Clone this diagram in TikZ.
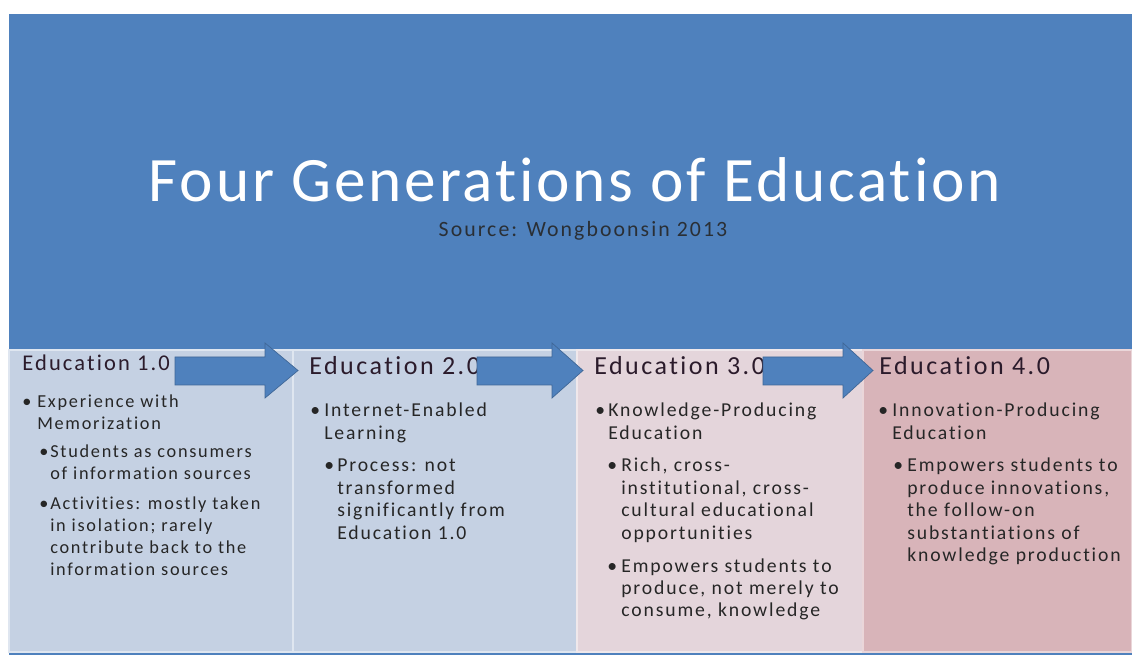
\documentclass[tikz,border=0pt]{standalone}
\usepackage{fontspec}
\setmainfont{Carlito}
\newfontfamily\bodyfont[LetterSpace=9.5, Ligatures=NoCommon]{Carlito}
\newfontfamily\titlefont[LetterSpace=4.5, Ligatures=NoCommon]{Carlito}
\usepackage{xcolor}
\usepackage{tikz}
\usetikzlibrary{positioning}
\definecolor{edublue}{HTML}{4F81BD}
\definecolor{edupanelblue}{HTML}{C5D1E3}
\definecolor{edupanelrose}{HTML}{E4D5DB}
\definecolor{edupanelpink}{HTML}{D8B4B9}
\definecolor{edutext}{HTML}{262626}
\definecolor{eduhead}{HTML}{2B1B2B}
\newlength\pxu
\setlength\pxu{0.025cm}
% bullet item: bullet column, then the lines of the item
\newcommand{\bitem}[2][12]{\begin{tabular}[t]{@{}p{#1\pxu}@{}l@{}}\hspace{-2\pxu}\textbullet&\begin{tabular}[t]{@{}l@{}}#2\end{tabular}\end{tabular}}
\tikzset{
  panel/.style={fill=#1, draw=white!45!#1, line width=1pt, anchor=north west,
    inner sep=0pt, outer sep=0pt, minimum height=302\pxu},
  heading/.style={anchor=base west, inner sep=0pt, text=eduhead,
    font=\bodyfont\fontsize{18.5}{22}\selectfont},
  item/.style={anchor=base west, inner sep=0pt, text=edutext,
    font=\bodyfont\fontsize{14}{16}\selectfont},
  flowarrow/.style={fill=edublue, draw=edublue!80!black, line width=0.5pt},
}
\begin{document}
\begin{tikzpicture}[x=0.025cm, y=-0.025cm]
  \useasboundingbox (0,0) rectangle (1132,655);
  % banner
  \fill[edublue] (9,14) rectangle (1132,350);
  \fill[edublue] (9,652) rectangle (1132,655);
  \node[text=white, anchor=base, inner sep=0pt,
    font=\titlefont\fontsize{45}{50}\selectfont] (title) at (575,202)
    {Four Generations of Education};
  \node[text=edutext!90!edublue, anchor=base, inner sep=0pt,
    font=\bodyfont\fontsize{15.5}{18}\selectfont] (source) at (583,237)
    {Source: Wongboonsin 2013};
  % four generation panels
  \node[panel=edupanelblue, minimum width=284\pxu] (gen1) at (9,350) {};
  \node[panel=edupanelblue, minimum width=284\pxu] (gen2) at (gen1.north east) {};
  \node[panel=edupanelrose, minimum width=286\pxu] (gen3) at (gen2.north east) {};
  \node[panel=edupanelpink, minimum width=269\pxu] (gen4) at (gen3.north east) {};
  % Education 1.0
  \node[heading, font=\bodyfont\fontsize{16}{20}\selectfont] (head1) at (22,371) {Education 1.0};
  \node[item, font=\bodyfont\fontsize{13}{15.6}\selectfont] (g1a) at (24,408)
    {\bitem[13]{Experience with\\Memorization}};
  \node[item, font=\bodyfont\fontsize{13}{15.6}\selectfont] (g1b) at (41,458)
    {\bitem[9]{Students as consumers\\of information sources}};
  \node[item, font=\bodyfont\fontsize{13}{15.6}\selectfont] (g1c) at (41,510)
    {\bitem[9]{Activities: mostly taken\\in isolation; rarely\\contribute back to the\\information sources}};
  % Education 2.0
  \node[heading] (head2) at (309,375) {Education 2.0};
  \node[item] (g2a) at (312,417) {\bitem[12]{Internet-Enabled\\Learning}};
  \node[item] (g2b) at (326,472)
    {\bitem[11]{Process: not\\transformed\\significantly from\\Education 1.0}};
  % Education 3.0
  \node[heading] (head3) at (594,375) {Education 3.0};
  \node[item] (g3a) at (597,417) {\bitem[11]{Knowledge-Producing\\Education}};
  \node[item] (g3b) at (609,472)
    {\bitem{Rich, cross-\\institutional, cross-\\cultural educational\\opportunities}};
  \node[item] (g3c) at (609,572)
    {\bitem{Empowers students to\\produce, not merely to\\consume, knowledge}};
  % Education 4.0
  \node[heading] (head4) at (879,375) {Education 4.0};
  \node[item] (g4a) at (880,417) {\bitem{Innovation-Producing\\Education}};
  \node[item] (g4b) at (895,472)
    {\bitem{Empowers students to\\produce innovations,\\the follow-on\\substantiations of\\knowledge production}};
  % block arrows between generations
  \draw[flowarrow] (175,357) -- (265,357) -- (265,343) -- (298,370.5)
    -- (265,398) -- (265,385) -- (175,385) -- cycle;
  \draw[flowarrow] (477,357) -- (552,357) -- (552,343) -- (583,370.5)
    -- (552,398) -- (552,385) -- (477,385) -- cycle;
  \draw[flowarrow] (763,357) -- (843,357) -- (843,343) -- (873,370.5)
    -- (843,398) -- (843,385) -- (763,385) -- cycle;
\end{tikzpicture}
\end{document}
